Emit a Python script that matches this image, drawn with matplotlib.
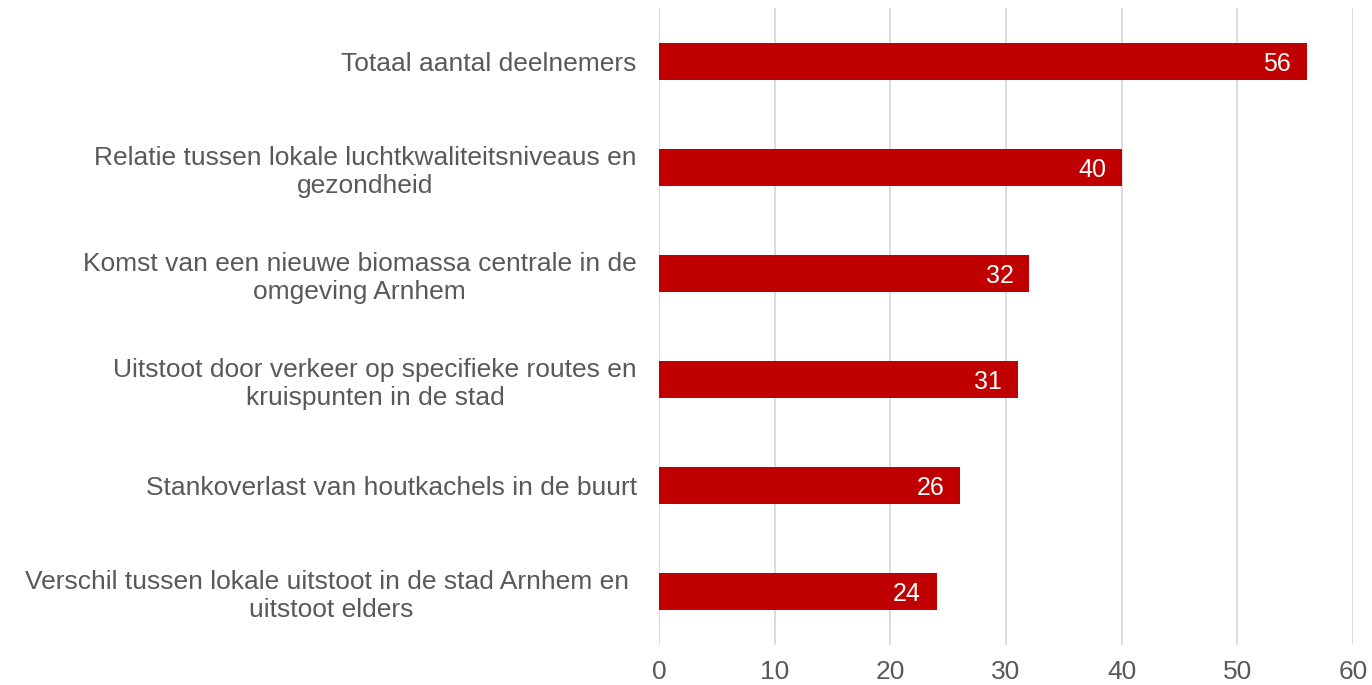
import matplotlib
matplotlib.use('Agg')
import matplotlib.pyplot as plt

# categories top to bottom as shown in the chart
categories = [
    'Totaal aantal deelnemers',
    'Relatie tussen lokale luchtkwaliteitsniveaus en\ngezondheid',
    'Komst van een nieuwe biomassa centrale in de\nomgeving Arnhem',
    'Uitstoot door verkeer op specifieke routes en\nkruispunten in de stad',
    'Stankoverlast van houtkachels in de buurt',
    'Verschil tussen lokale uitstoot in de stad Arnhem en \nuitstoot elders',
]
values = [56, 40, 32, 31, 26, 24]
x_ticks = [0, 10, 20, 30, 40, 50, 60]

BAR = '#C00000'
GREY = '#595959'
GRID = '#D9D9D9'

plt.rcParams['font.family'] = ['Liberation Sans', 'DejaVu Sans']

fig = plt.figure(figsize=(13.72, 6.85), dpi=100)
ax = fig.add_axes([0.4803, 0.0584, 0.9861 - 0.4803, 0.9883 - 0.0584])

pos = list(range(len(categories)))[::-1]
bars = ax.barh(pos, values, height=0.35, color=BAR, zorder=3)

for b, v in zip(bars, values):
    ax.text(b.get_width() - 1.35, b.get_y() + b.get_height() / 2, str(v),
            ha='right', va='center_baseline', color='white', fontsize=18,
            zorder=4)

ax.set_xlim(0, 60)
ax.set_ylim(-0.5, len(categories) - 0.5)
ax.set_xticks(x_ticks)
ax.set_yticks(pos)
ax.set_yticklabels(categories, multialignment='center', linespacing=1.2)
ax.tick_params(axis='y', length=0, pad=16, labelsize=19, labelcolor=GREY)
ax.tick_params(axis='x', length=0, pad=11, labelsize=19, labelcolor=GREY)

ax.xaxis.grid(True, color=GRID, linewidth=1.3, zorder=0)
for s in ax.spines.values():
    s.set_visible(False)

plt.savefig('out.png', dpi=100)
plt.close()
